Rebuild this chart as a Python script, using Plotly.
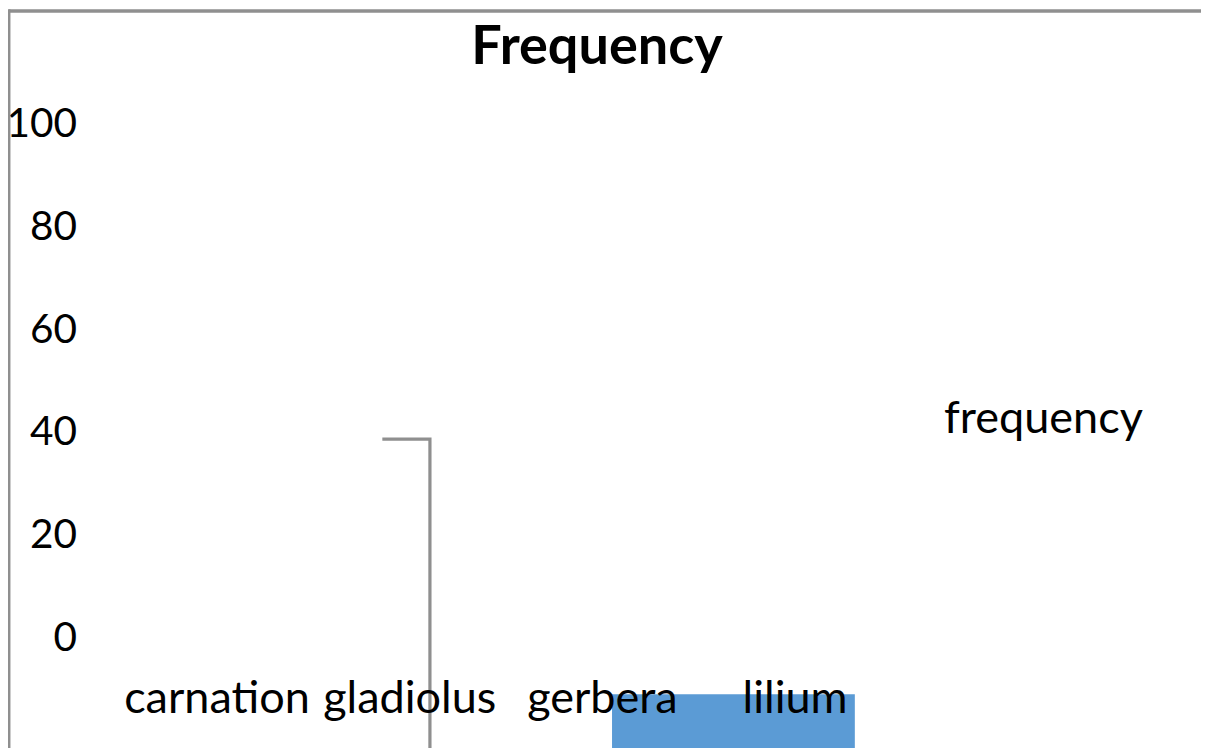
import plotly.graph_objects as go

# ---- data ----
categories = ["carnation", "gladiolus", "gerbera", "lilium"]
category_pos = [0, 1, 2, 3]
y_ticks = [0, 20, 40, 60, 80, 100]
series_name = "frequency"
title_text = "Frequency"

# blue bar (as rendered in the reference)
bar_x = [2.68]
bar_width = [1.26]
bar_base = [-11.26]
bar_len = [-15]

# grey connector line (as rendered in the reference)
line_x = [0.858, 1.105, 1.105]
line_y = [38.46, 38.46, -30]

FONT = "Lato"
FS = 45
W, H = 1201, 740   # page body has an 8px margin
L = 72
PW = W - L

fig = go.Figure()

fig.add_trace(go.Bar(
    x=bar_x, y=bar_len, base=bar_base, width=bar_width,
    marker=dict(color="#5b9bd5", line=dict(width=0)),
    name=series_name, showlegend=False, hoverinfo="skip",
))
fig.add_trace(go.Scatter(
    x=line_x, y=line_y, mode="lines",
    line=dict(color="#8f8f8f", width=3.2),
    showlegend=False, hoverinfo="skip",
))

fig.update_layout(
    width=W, height=H,
    margin=dict(l=L, r=0, t=0, b=0, autoexpand=False),
    paper_bgcolor="white", plot_bgcolor="white",
    font=dict(family=FONT, size=FS, color="black"),
    title=dict(text="<b>" + title_text + "</b>", x=589 / W, xanchor="center",
               y=1 - 37 / H, yanchor="middle", yref="container",
               font=dict(family=FONT, size=54, color="black")),
    xaxis=dict(range=[-0.711, 5.148], tickmode="array", tickvals=category_pos,
               ticktext=categories, showgrid=False, zeroline=False, showline=False,
               ticks="", anchor="free", position=0.1095, automargin=False,
               tickfont=dict(family=FONT, size=FS, color="black")),
    yaxis=dict(range=[-21.71, 122.40], tickmode="array", tickvals=y_ticks,
               showgrid=False, zeroline=False, showline=False, ticks="",
               automargin=False, ticklabelstandoff=2,
               tickfont=dict(family=FONT, size=40.5, color="black")),
    showlegend=False,
    annotations=[dict(text=series_name, xref="paper", yref="paper",
                      x=(934 - L) / PW, y=1 - 408 / H, xanchor="left",
                      yanchor="middle", showarrow=False,
                      font=dict(family=FONT, size=FS, color="black"))],
    shapes=[
        dict(type="line", xref="paper", yref="paper",
             x0=(0.7 - L) / PW, x1=1.2, y0=1 - 3 / H, y1=1 - 3 / H,
             line=dict(color="#8f8f8f", width=3.5)),
        dict(type="line", xref="paper", yref="paper",
             x0=(0.7 - L) / PW, x1=(0.7 - L) / PW, y0=-0.2, y1=1 - 1.3 / H,
             line=dict(color="#8f8f8f", width=3.5)),
    ],
)

fig.write_html("out.html")
